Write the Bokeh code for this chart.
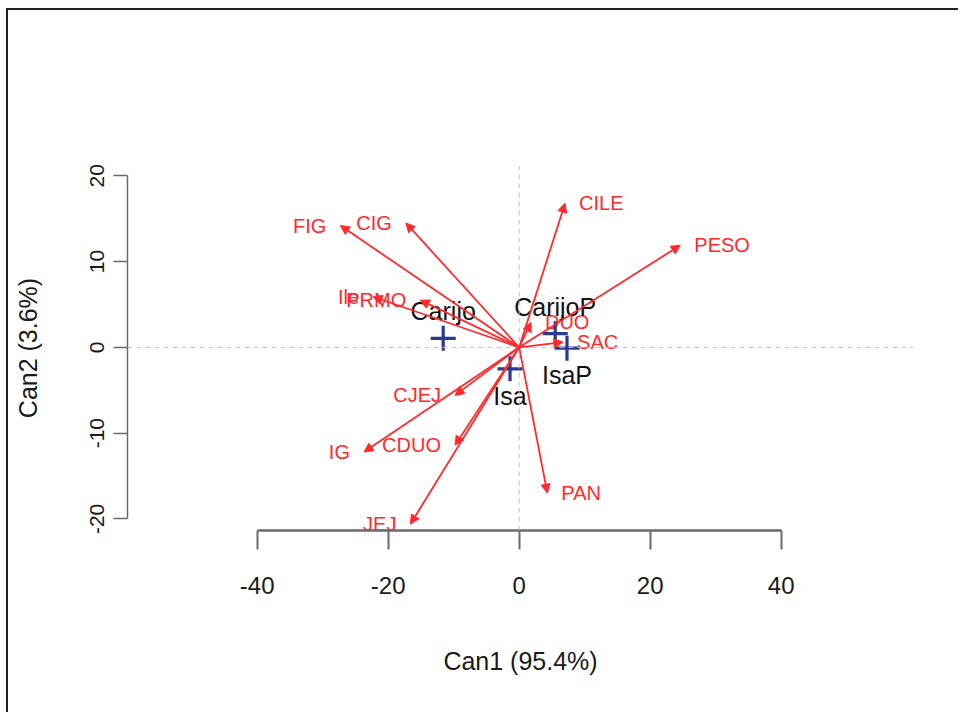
import numpy as np
from bokeh.plotting import figure
from bokeh.models import ColumnDataSource, Arrow, NormalHead, Span, LinearAxis, FixedTicker
from bokeh.core.properties import value
from bokeh.embed import file_html
from bokeh.resources import INLINE

# ---- data ----
var_names = ["PESO", "CILE", "SAC", "DUO", "PAN", "JEJ", "IG", "CDUO", "CJEJ", "FIG", "CIG", "Ile", "PRMO"]
var_can1 = [24.6, 7.0, 6.7, 1.8, 4.3, -16.6, -23.7, -9.8, -9.8, -27.3, -17.3, -22.3, -15.1]
var_can2 = [11.9, 16.8, 0.6, 2.9, -17.0, -20.6, -12.2, -11.4, -5.6, 14.2, 14.5, 5.9, 5.5]

groups = ["Carijo", "CarijoP", "Isa", "IsaP"]
grp_can1 = [-11.6, 5.5, -1.4, 7.3]
grp_can2 = [1.05, 1.6, -2.5, -0.1]

x_ticks = [-40, -20, 0, 20, 40]
y_ticks = [-20, -10, 0, 10, 20]
x_title = "Can1 (95.4%)"
y_title = "Can2 (3.6%)"

FONT = "Liberation Sans"
RED = "#ff2a2a"
BLUE = "#2b3a8f"

p = figure(width=952, height=704, output_backend="svg", toolbar_location=None,
           x_range=(-59.8, 60.2), y_range=(-21.35, 21.2),
           x_axis_type=None, y_axis_type=None,
           min_border_left=119, min_border_right=47, min_border_top=155, min_border_bottom=184,
           styles={"margin-left": "6px", "margin-top": "8px",
                   "border-left": "2px solid #222", "border-top": "2px solid #222"})
p.outline_line_color = None
p.background_fill_color = "white"
p.border_fill_color = "white"
p.xgrid.visible = False
p.ygrid.visible = False

# axes (R style, hyphen minus signs)
xa = LinearAxis(ticker=FixedTicker(ticks=x_ticks), bounds=(x_ticks[0], x_ticks[-1]),
                axis_label=x_title)
xa.major_label_overrides = {t: str(t) for t in x_ticks}
xa.axis_line_color = "#6a6a6a"
xa.axis_line_width = 2.5
xa.major_tick_line_color = "#6a6a6a"
xa.major_tick_line_width = 2
xa.major_tick_out = 19
xa.major_tick_in = 0
xa.minor_tick_out = 0
xa.minor_tick_in = 0
xa.major_label_text_font = FONT
xa.major_label_text_font_size = "24px"
xa.major_label_text_color = "#1a1a1a"
xa.major_label_standoff = 27
xa.axis_label_text_font = FONT
xa.axis_label_text_font_size = "25px"
xa.axis_label_text_font_style = "normal"
xa.axis_label_text_color = "#1a1a1a"
xa.axis_label_standoff = 50
p.add_layout(xa, "below")

ya = LinearAxis(ticker=FixedTicker(ticks=y_ticks), bounds=(y_ticks[0], y_ticks[-1]),
                axis_label=y_title)
ya.major_label_overrides = {t: str(t) for t in y_ticks}
ya.axis_line_color = "#6a6a6a"
ya.axis_line_width = 1.5
ya.major_tick_line_color = "#6a6a6a"
ya.major_tick_line_width = 1.5
ya.major_tick_out = 14
ya.major_tick_in = 0
ya.minor_tick_out = 0
ya.minor_tick_in = 0
ya.major_label_orientation = "vertical"
ya.major_label_text_font = FONT
ya.major_label_text_font_size = "21px"
ya.major_label_text_color = "#1a1a1a"
ya.major_label_standoff = 9
ya.axis_label_text_font = FONT
ya.axis_label_text_font_size = "25px"
ya.axis_label_text_font_style = "normal"
ya.axis_label_text_color = "#1a1a1a"
ya.axis_label_standoff = 46
p.add_layout(ya, "left")

# reference lines through the origin
p.add_layout(Span(location=0, dimension="width", line_color="#c0c0c0", line_dash="5 4", line_width=1))
p.add_layout(Span(location=0, dimension="height", line_color="#c0c0c0", line_dash="5 4", line_width=1))

# variable vectors
n = len(var_names)
arrow_src = ColumnDataSource(dict(x0=[0.0] * n, y0=[0.0] * n, x1=var_can1, y1=var_can2))
p.add_layout(Arrow(source=arrow_src, x_start="x0", y_start="y0", x_end="x1", y_end="y1",
                   line_color=RED, line_width=1.8,
                   end=NormalHead(size=9, fill_color=RED, line_color=RED, line_width=1)))

right = [i for i in range(n) if var_can1[i] > 0]
left = [i for i in range(n) if var_can1[i] <= 0]
for idx, align, off in ((right, "left", 14), (left, "right", -14)):
    src = ColumnDataSource(dict(x=[var_can1[i] for i in idx], y=[var_can2[i] for i in idx],
                                t=[var_names[i] for i in idx]))
    p.text(x="x", y="y", text="t", source=src, text_align=align, text_baseline="middle",
           x_offset=off, text_color=RED, text_font=value(FONT), text_font_size="20px")

# group means
p.scatter(grp_can1, grp_can2, marker="cross", size=25, line_color=BLUE, line_width=3.2)
gsrc = ColumnDataSource(dict(x=grp_can1, y=grp_can2, t=groups,
                             yo=[-27 if v > 0 else 27 for v in grp_can2]))
p.text(x="x", y="y", text="t", source=gsrc, y_offset="yo", text_align="center",
       text_baseline="middle", text_color="#111111", text_font=value(FONT), text_font_size="25px")

open("out.html", "w").write(file_html(p, INLINE))
